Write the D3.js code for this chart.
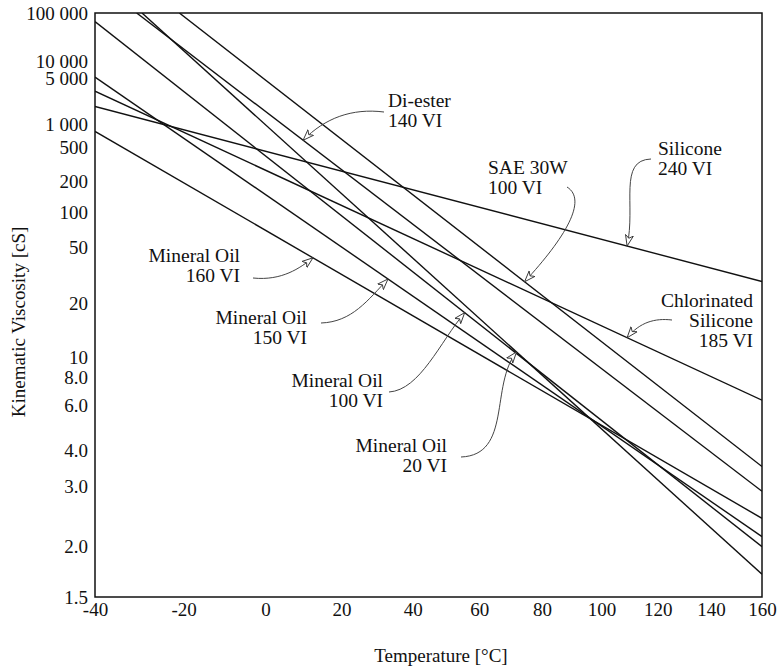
<!DOCTYPE html>
<html><head><meta charset="utf-8">
<script src="https://cdn.jsdelivr.net/npm/d3@7"></script>
<style>
body{margin:0;background:#fff;}
text{font-family:"Liberation Serif","DejaVu Serif",serif;fill:#111;}
</style></head>
<body><svg id="c" width="780" height="667"></svg>
<script>
// ---- data ----
const fluidNames = ["Silicone 240 VI","Chlorinated Silicone 185 VI","Di-ester 140 VI","SAE 30W 100 VI",
  "Mineral Oil 160 VI","Mineral Oil 150 VI","Mineral Oil 100 VI","Mineral Oil 20 VI"];
const startTemp = [-40, -40, -30.8, -21, -40, -40, -40, -29.6];
const startVisc = [1800, 3100, 100000, 100000, 800, 5300, 64000, 100000];
const endTemp   = [160, 160, 160, 160, 160, 160, 160, 160];
const endVisc   = [28, 6.3, 2.9, 3.5, 2.4, 2.13, 2.0, 1.7];
const xTicks = [-40,-20,0,20,40,60,80,100,120,140,160];
const yTicks = [100000,10000,5000,1000,500,200,100,50,20,10,8,6,4,3,2,1.5];
const yTickLabels = ["100 000","10 000","5 000","1 000","500","200","100","50","20","10","8.0","6.0","4.0","3.0","2.0","1.5"];
// annotation: which fluid, temperature of arrow tip
const annFluid = [2,3,0,1,4,5,6,7];
const annTipTemp = [9.7, 74.3, 109, 109, 12.3, 32.9, 55.5, 71.7];
const annLines = [["Di-ester","140 VI"],["SAE 30W","100 VI"],["Silicone","240 VI"],["Chlorinated","Silicone","185 VI"],
  ["Mineral Oil","160 VI"],["Mineral Oil","150 VI"],["Mineral Oil","100 VI"],["Mineral Oil","20 VI"]];

// ---- layout ----
const L=95, R=762, T=13, B=597;
const svg = d3.select("#c");
const fx = t => Math.log10(t + 273.15);           // ASTM temperature axis
const fy = v => Math.log10(Math.log10(v + 0.7));  // ASTM viscosity axis
const xLin = d3.scaleLinear().domain([fx(-40), fx(160)]).range([L, R]);
const yLin = d3.scaleLinear().domain([fy(1.5), fy(100000)]).range([B, T]);
const X = t => xLin(fx(t)), Y = v => yLin(fy(v));

// axes
const xAxis = d3.axisBottom(xLin).tickValues(xTicks.map(fx)).tickFormat((d,i)=>xTicks[i]).tickSize(0).tickPadding(6);
const gx = svg.append("g").attr("transform",`translate(0,${B})`).call(xAxis);
gx.select(".domain").remove();
gx.selectAll("text").attr("font-size",19).attr("font-family","Liberation Serif");
const yAxis = d3.axisLeft(yLin).tickValues(yTicks.map(fy)).tickFormat((d,i)=>yTickLabels[i]).tickSize(0).tickPadding(7);
const gy = svg.append("g").attr("transform",`translate(${L},0)`).call(yAxis);
gy.select(".domain").remove();
gy.selectAll("text").attr("font-size",19).attr("font-family","Liberation Serif");

svg.append("text").attr("x",441).attr("y",662).attr("text-anchor","middle").attr("font-size",19).text("Temperature [°C]");
svg.append("text").attr("transform","translate(25,322) rotate(-90)").attr("text-anchor","middle").attr("font-size",19).text("Kinematic Viscosity [cS]");

// clip
svg.append("clipPath").attr("id","clip").append("rect").attr("x",L).attr("y",T).attr("width",R-L).attr("height",B-T);

// lines
const lineData = fluidNames.map((n,i)=>({name:n, pts:[[startTemp[i],startVisc[i]],[endTemp[i],endVisc[i]]]}));
const line = d3.line().x(d=>X(d[0])).y(d=>Y(d[1]));
svg.append("g").attr("clip-path","url(#clip)").selectAll("path").data(lineData).join("path")
  .attr("d",d=>line(d.pts)).attr("fill","none").attr("stroke","#111").attr("stroke-width",1.4);

// frame
svg.append("rect").attr("x",L).attr("y",T).attr("width",R-L).attr("height",B-T)
  .attr("fill","none").attr("stroke","#111").attr("stroke-width",1.5);

// annotations
const defs = svg.append("defs");
defs.append("marker").attr("id","arr").attr("viewBox","0 -5 12 10").attr("refX",11).attr("refY",0)
  .attr("markerWidth",12).attr("markerHeight",10).attr("markerUnits","userSpaceOnUse").attr("orient","auto")
  .append("path").attr("d","M0,-4 L11,0 L0,4 L3,0 Z").attr("fill","#fff").attr("stroke","#333").attr("stroke-width",0.9);

function tipPoint(i){
  const f = annFluid[i], t = annTipTemp[i];
  const x0=X(startTemp[f]), y0=Y(startVisc[f]), x1=X(endTemp[f]), y1=Y(endVisc[f]);
  const x=X(t); return [x, y0+(y1-y0)*(x-x0)/(x1-x0)];
}
// text layout (pixels): x, first baseline, anchor; arrow tail and control points
const annLayout = [
  {x:388,y:107,a:"start",tail:[384,112],c1:[352,108],c2:[325,118]},
  {x:488,y:174,a:"start",tail:[567,187],c1:[588,200],c2:[565,238]},
  {x:658,y:155,a:"start",tail:[651,159],c1:[618,160],c2:[636,205]},
  {x:753,y:307,a:"end",tail:[672,320],c1:[655,318],c2:[640,322]},
  {x:240,y:262,a:"end",tail:[253,278],c1:[282,281],c2:[300,268]},
  {x:307,y:324,a:"end",tail:[321,323],c1:[352,322],c2:[368,300]},
  {x:383,y:387,a:"end",tail:[389,392],c1:[420,390],c2:[440,342]},
  {x:447,y:452,a:"end",tail:[461,457],c1:[512,455],c2:[490,385]}
];
annLayout.forEach((o,i)=>{
  const tip = tipPoint(i);
  const t = svg.append("text").attr("x",o.x).attr("y",o.y).attr("text-anchor",o.a).attr("font-size",19.5);
  annLines[i].forEach((s,k)=>t.append("tspan").attr("x",o.x).attr("dy",k?20:0).text(s));
  const p = d3.path(); p.moveTo(...o.tail); p.bezierCurveTo(...o.c1,...o.c2,...tip);
  svg.append("path").attr("d",p.toString()).attr("fill","none").attr("stroke","#444").attr("stroke-width",1)
    .attr("marker-end","url(#arr)");
});
</script></body></html>
